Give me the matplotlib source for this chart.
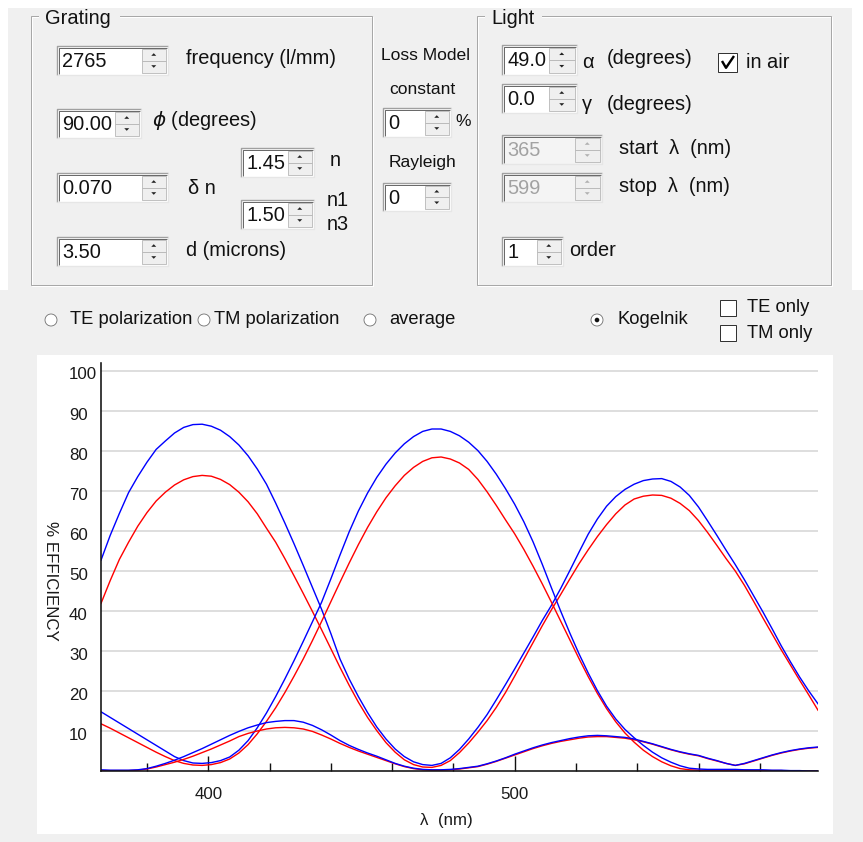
import matplotlib
matplotlib.use("Agg")
import matplotlib.pyplot as plt
from matplotlib.patches import Rectangle, Circle, Polygon
from matplotlib.transforms import ScaledTranslation

plt.rcParams['font.family'] = ['Liberation Sans', 'DejaVu Sans']

# ---- efficiency curves (% vs wavelength in nm), sampled every 3 nm ----
wavelength_nm = [365, 368, 371, 374, 377, 380, 383, 386, 389, 392, 395, 398, 401,
                 404, 407, 410, 413, 416, 419, 422, 425, 428, 431, 434, 437, 440,
                 443, 446, 449, 452, 455, 458, 461, 464, 467, 470, 473, 476, 479,
                 482, 485, 488, 491, 494, 497, 500, 503, 506, 509, 512, 515, 518,
                 521, 524, 527, 530, 533, 536, 539, 542, 545, 548, 551, 554, 557,
                 560, 563, 566, 569, 572, 575, 578, 581, 584, 587, 590, 593, 596,
                 599]

te_a = [52.7, 58.9, 64.4, 69.6, 73.6, 77.2, 80.4, 82.5, 84.5, 85.9, 86.6, 86.7, 86.2,
        85.2, 83.6, 81.5, 78.8, 75.5, 71.7, 67.0, 62.0, 56.8, 51.4, 45.9, 40.4, 34.4,
        28.0, 23.0, 18.6, 14.6, 11.0, 8.0, 5.5, 3.6, 2.3, 1.6, 1.4, 1.9, 3.3,
        5.4, 8.0, 10.9, 14.1, 17.8, 21.6, 25.5, 29.5, 33.5, 37.6, 41.4, 45.6, 50.1,
        54.7, 59.2, 63.0, 66.2, 68.6, 70.4, 71.7, 72.6, 73.0, 73.1, 72.4, 71.0, 68.9,
        66.0, 62.5, 58.9, 55.2, 51.6, 47.8, 43.8, 39.8, 35.6, 31.3, 27.3, 23.5, 20.0,
        16.8]
tm_a = [41.9, 47.6, 52.9, 57.2, 61.2, 64.6, 67.5, 69.7, 71.5, 72.8, 73.6, 73.9, 73.7,
        72.9, 71.6, 69.7, 67.3, 64.3, 60.7, 57.2, 53.1, 48.8, 44.4, 39.9, 35.3, 30.6,
        25.9, 21.4, 17.2, 13.4, 10.1, 7.1, 4.7, 2.8, 1.6, 1.0, 0.9, 1.4, 2.6,
        4.6, 7.0, 9.7, 12.6, 15.9, 19.6, 23.7, 27.9, 32.1, 36.3, 40.3, 44.1, 48.0,
        51.8, 55.3, 58.6, 61.6, 64.3, 66.5, 68.0, 68.7, 69.0, 68.9, 68.2, 66.9, 65.1,
        62.6, 59.6, 56.4, 53.1, 50.0, 46.4, 42.4, 38.3, 34.3, 30.3, 26.5, 22.7, 19.0,
        15.2]
te_b = [14.8, 13.4, 12.0, 10.6, 9.2, 7.8, 6.4, 5.0, 3.6, 2.6, 2.0, 1.9, 2.1,
        2.6, 3.5, 5.2, 7.6, 10.8, 14.5, 18.6, 23.0, 27.6, 32.4, 37.3, 42.2, 48.0,
        54.0, 59.8, 65.0, 69.5, 73.4, 76.7, 79.5, 81.8, 83.6, 84.9, 85.5, 85.5, 84.9,
        83.8, 82.2, 80.1, 77.4, 74.2, 70.6, 66.7, 62.3, 57.3, 51.7, 45.8, 40.0, 34.5,
        29.3, 24.5, 20.1, 16.2, 13.0, 10.4, 8.3, 6.4, 4.7, 3.3, 2.2, 1.3, 0.7,
        0.5, 0.4, 0.4, 0.4, 0.4, 0.3, 0.3, 0.3, 0.2, 0.2, 0.1, 0.1, 0.0,
        0.0]
tm_b = [11.8, 10.7, 9.5, 8.3, 7.1, 5.9, 4.7, 3.6, 2.6, 1.9, 1.5, 1.4, 1.6,
        2.1, 3.0, 4.5, 6.6, 9.3, 12.4, 15.8, 19.6, 23.7, 28.0, 32.6, 37.4, 42.3,
        47.2, 52.0, 56.6, 60.9, 64.8, 68.3, 71.3, 73.9, 75.9, 77.4, 78.3, 78.5, 78.0,
        77.0, 75.4, 72.9, 69.8, 66.4, 62.8, 59.3, 55.4, 51.2, 46.8, 42.2, 37.5, 32.8,
        28.1, 23.6, 19.4, 15.6, 12.3, 9.5, 7.2, 5.2, 3.6, 2.3, 1.3, 0.6, 0.3,
        0.2, 0.2, 0.2, 0.2, 0.2, 0.2, 0.1, 0.1, 0.1, 0.1, 0.0, 0.0, 0.0,
        0.0]
te_c = [0.3, 0.2, 0.2, 0.2, 0.3, 0.6, 1.2, 1.9, 2.7, 3.6, 4.6, 5.6, 6.7,
        7.8, 8.9, 9.9, 10.8, 11.5, 12.1, 12.4, 12.6, 12.6, 12.2, 11.4, 10.3, 9.0,
        7.6, 6.4, 5.4, 4.5, 3.7, 2.8, 1.9, 1.2, 0.7, 0.4, 0.3, 0.3, 0.4,
        0.6, 0.9, 1.2, 1.8, 2.5, 3.3, 4.2, 5.0, 5.8, 6.5, 7.1, 7.6, 8.1,
        8.5, 8.8, 8.9, 8.8, 8.6, 8.4, 8.0, 7.4, 6.8, 6.1, 5.4, 4.8, 4.3,
        3.9, 3.2, 2.6, 1.9, 1.4, 1.9, 2.6, 3.3, 4.0, 4.6, 5.1, 5.5, 5.8,
        6.0]
tm_c = [0.1, 0.1, 0.1, 0.1, 0.2, 0.5, 1.0, 1.6, 2.2, 2.9, 3.7, 4.6, 5.5,
        6.5, 7.5, 8.6, 9.4, 10.0, 10.5, 10.8, 10.9, 10.8, 10.5, 9.9, 9.0, 8.0,
        6.9, 5.9, 5.0, 4.2, 3.4, 2.6, 1.8, 1.1, 0.6, 0.3, 0.2, 0.2, 0.3,
        0.5, 0.8, 1.1, 1.7, 2.4, 3.2, 4.0, 4.8, 5.6, 6.3, 6.9, 7.4, 7.8,
        8.2, 8.5, 8.6, 8.6, 8.4, 8.2, 7.8, 7.3, 6.7, 6.0, 5.3, 4.7, 4.2,
        3.8, 3.1, 2.5, 1.9, 1.4, 1.8, 2.5, 3.2, 3.9, 4.5, 5.0, 5.4, 5.7,
        5.9]

y_ticks = [10, 20, 30, 40, 50, 60, 70, 80, 90, 100]
x_major = [400, 500]
x_minor = [380, 420, 440, 460, 480, 520, 540, 560, 580]

# ---- canvas in pixel coordinates ----
W, H = 863, 842
PX = 0.72  # points per pixel at 100 dpi
fig = plt.figure(figsize=(W / 100, H / 100), dpi=100)
fig.patch.set_facecolor('#F0F0F0')
ui = fig.add_axes([0, 0, 1, 1])
ui.set_xlim(0, W)
ui.set_ylim(H, 0)
ui.set_autoscale_on(False)
ui.axis('off')

UI_FONT = 14.4
SMALL_FONT = 12.6
ROW_FONT = 13.2
CHART_FONT = 12.2


def box(x0, y0, x1, y1, **kw):
    ui.add_patch(Rectangle((x0, y0), x1 - x0, y1 - y0, **kw))


def seg(xs, ys, color, w=1.0):
    ui.plot(xs, ys, color=color, lw=w * PX, solid_capstyle='butt')


def label(x, y, s, size=UI_FONT, color='#111111', ha='left', **kw):
    ui.text(x, y, s, fontsize=size, color=color, ha=ha, va='center', **kw)


def group(x0, y0, x1, y1, title, tx, tw):
    box(x0 + 1, y0 + 1, x1 + 1, y1 + 1, fc='none', ec='white', lw=PX)
    box(x0, y0, x1, y1, fc='none', ec='#A8A8A8', lw=PX)
    # gap in the top border behind the caption
    box(tx - 6, y0 - 3, tx + tw + 7, y0 + 3, fc='#F0F0F0', ec='none')
    label(tx, y0 + 3, title)


def spin(x0, y0, x1, y1, sx, text, enabled=True):
    face = 'white' if enabled else '#F4F4F4'
    box(x0, y0, x1, y1, fc=face, ec='none')
    seg([x0, x0, x1], [y1, y0, y0], '#A0A0A0', 1.4)
    seg([x0 + 1.5, x0 + 1.5, x1 - 1.5], [y1 - 1.5, y0 + 1.5, y0 + 1.5], '#6A6A6A', 1.0)
    seg([x0, x1, x1], [y1, y1, y0], '#E6E6E6', 1.4)
    ym = (y0 + y1) / 2
    sx1 = x1 - 2.5
    arrow = '#222222' if enabled else '#B0B0B0'
    for a, b, up in [(y0 + 2.5, ym, True), (ym, y1 - 2.5, False)]:
        box(sx, a, sx1, b, fc='#EFEFEF', ec='#B4B4B4', lw=0.8 * PX)
        cx, cy = (sx + sx1) / 2, (a + b) / 2
        if up:
            pts = [(cx - 2.5, cy + 1.3), (cx + 2.5, cy + 1.3), (cx, cy - 1.3)]
        else:
            pts = [(cx - 2.5, cy - 1.3), (cx + 2.5, cy - 1.3), (cx, cy + 1.3)]
        ui.add_patch(Polygon(pts, closed=True, fc=arrow, ec='none'))
    label(x0 + 5, ym + 1, text, color='#111111' if enabled else '#A2A2A2')


def checkbox(x0, y0, s, checked=False):
    box(x0, y0, x0 + s, y0 + s, fc='white', ec='#333333', lw=PX)
    if checked:
        ui.plot([x0 + 4, x0 + 8, x0 + s - 3], [y0 + s * 0.42, y0 + s * 0.78, y0 + 3],
                color='black', lw=2.4 * PX, solid_capstyle='butt')


def radio(cx, cy, selected=False):
    ui.add_patch(Circle((cx, cy), 6, fc='white', ec='#6A6A6A', lw=0.8 * PX))
    if selected:
        ui.add_patch(Circle((cx, cy), 2.3, fc='#111111', ec='none'))


# white frame edges
box(0, 0, W, 8, fc='white', ec='none')
box(0, 0, 8, 290, fc='white', ec='none')
box(852, 0, W, 290, fc='white', ec='none')

# ---- Grating group ----
group(31, 16, 372, 285, 'Grating', 45, 68)
spin(57, 46, 168, 75, 142, '2765')
label(186, 58, 'frequency (l/mm)')
spin(57, 109, 141, 138, 115, '90.00')
label(152, 121, r'$\phi$ (degrees)')
spin(57, 173, 168, 202, 142, '0.070')
label(188, 189, 'δ n')
spin(241, 148, 314, 177, 288, '1.45')
label(330, 160, 'n')
spin(241, 200, 314, 229, 288, '1.50')
label(327, 200, 'n1')
label(327, 224, 'n3')
spin(57, 237, 168, 266, 142, '3.50')
label(186, 250, 'd (microns)')

# ---- loss model ----
label(381, 56, 'Loss Model', size=SMALL_FONT)
label(389, 90, 'constant', size=SMALL_FONT)
spin(383, 108, 451, 137, 425, '0')
label(455, 122, '%', size=SMALL_FONT)
label(389, 162, 'Rayleigh', size=SMALL_FONT)
spin(383, 183, 451, 211, 425, '0')

# ---- Light group ----
group(477, 16, 831, 285, 'Light', 491, 44)
spin(502, 45, 577, 75, 549, '49.0')
label(582, 62, 'α')
label(607, 59, '(degrees)')
checkbox(718, 53, 19, checked=True)
label(746, 63, 'in air')
spin(502, 84, 577, 113, 549, '0.0')
label(582, 104, 'γ')
label(607, 104, '(degrees)')
spin(502, 135, 602, 164, 575, '365', enabled=False)
label(619, 148, 'start  λ  (nm)')
spin(502, 173, 602, 202, 575, '599', enabled=False)
label(619, 187, 'stop  λ  (nm)')
spin(502, 237, 563, 266, 537, '1')
label(569, 250, 'order')

# ---- mode selectors ----
ROW_Y = 320
radio(51, ROW_Y)
label(70, ROW_Y, 'TE polarization', size=ROW_FONT)
radio(204, ROW_Y)
label(214, ROW_Y, 'TM polarization', size=ROW_FONT)
radio(370, ROW_Y)
label(389, ROW_Y, 'average', size=ROW_FONT)
radio(597, ROW_Y, selected=True)
label(617, ROW_Y, 'Kogelnik', size=ROW_FONT)
checkbox(720, 300, 16)
label(747, 308, 'TE only', size=ROW_FONT)
checkbox(720, 325, 16)
label(747, 333, 'TM only', size=ROW_FONT)

# ---- chart ----
box(37, 355, 833, 834, fc='white', ec='none')
ax = fig.add_axes([101 / W, 1 - 771 / H, 717 / W, 408 / H])
ax.set_facecolor('white')
ax.set_xlim(365, 599)
ax.set_ylim(0, 102)
for side in ('top', 'right'):
    ax.spines[side].set_visible(False)
for side in ('left', 'bottom'):
    ax.spines[side].set_linewidth(1.6 * PX)
    ax.spines[side].set_color('#111111')

ax.set_axisbelow(True)
ax.set_yticks(y_ticks)
ax.set_yticklabels([str(v) for v in y_ticks])
ax.yaxis.grid(True, color='#D4D4D4', lw=1.5 * PX)
ax.tick_params(axis='y', length=0, pad=32 * PX, labelsize=CHART_FONT,
               labelcolor='#1A1A1A')
shift = ScaledTranslation(0, -2.5 / 100, fig.dpi_scale_trans)
for t in ax.get_yticklabels():
    t.set_ha('left')
    t.set_transform(t.get_transform() + shift)

ax.set_xticks(x_major)
ax.set_xticklabels([str(v) for v in x_major])
ax.set_xticks(x_minor, minor=True)
ax.tick_params(axis='x', which='major', direction='in', length=15 * PX,
               width=1.4 * PX, pad=16 * PX, labelsize=CHART_FONT,
               labelcolor='#1A1A1A', color='#111111')
ax.tick_params(axis='x', which='minor', direction='in', length=8 * PX,
               width=1.4 * PX, color='#111111')

for series, colour in [(tm_a, '#FF0000'), (te_a, '#0000FF'),
                       (tm_b, '#FF0000'), (te_b, '#0000FF'),
                       (tm_c, '#FF0000'), (te_c, '#0000FF')]:
    ax.plot(wavelength_nm, series, color=colour, lw=1.4 * PX)

ui.text(420, 820, 'λ  (nm)', fontsize=CHART_FONT, color='#1A1A1A', va='center', ha='left')
ui.text(50, 581, '% EFFICIENCY', fontsize=CHART_FONT, color='#1A1A1A', rotation=-90,
        va='center', ha='center')

fig.savefig('out.png', dpi=100, facecolor=fig.get_facecolor())
